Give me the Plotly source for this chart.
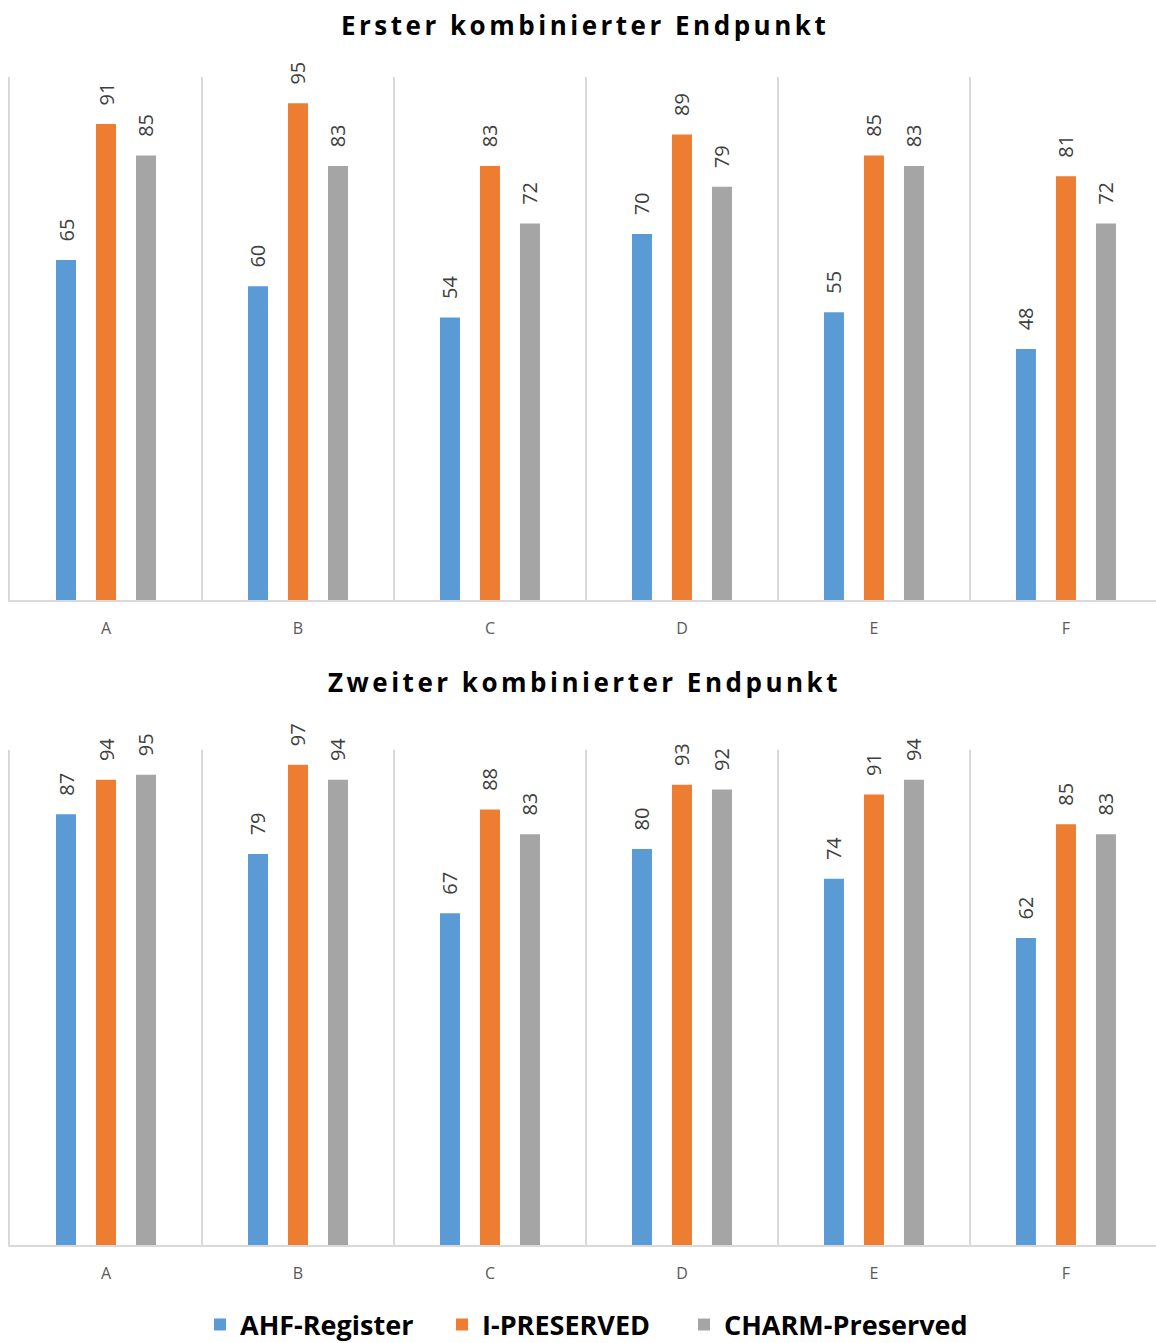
import plotly.graph_objects as go

categories = ["A", "B", "C", "D", "E", "F"]
series_names = ["AHF-Register", "I-PRESERVED", "CHARM-Preserved"]
colors = ["#5B9BD5", "#ED7D31", "#A5A5A5"]

# Erster kombinierter Endpunkt
first_ahf = [65, 60, 54, 70, 55, 48]
first_ipreserved = [91, 95, 83, 89, 85, 81]
first_charm = [85, 83, 72, 79, 83, 72]

# Zweiter kombinierter Endpunkt
second_ahf = [87, 79, 67, 80, 74, 62]
second_ipreserved = [94, 97, 88, 93, 91, 85]
second_charm = [95, 94, 83, 92, 94, 83]

titles = ["Erster kombinierter Endpunkt", "Zweiter kombinierter Endpunkt"]

W, H = 1156, 1343

# one legend box per series so the entries can be spaced evenly
legend_ids = ["legend", "legend2", "legend3"]
legend_left_px = [200, 442, 684]

fig = go.Figure()

panels = [
    ("x", "y", [first_ahf, first_ipreserved, first_charm], True),
    ("x2", "y2", [second_ahf, second_ipreserved, second_charm], False),
]
for xa, ya, values, show in panels:
    for name, color, vals, lg in zip(series_names, colors, values, legend_ids):
        fig.add_trace(go.Bar(
            x=categories, y=vals, name=name, xaxis=xa, yaxis=ya,
            marker=dict(color=color, line=dict(width=0)),
            text=vals, texttemplate="\u00a0\u00a0\u00a0%{text}",
            textposition="outside", textangle=-90, constraintext="none",
            textfont=dict(family="Open Sans", size=20, color="#404040"),
            cliponaxis=False, legendgroup=name, showlegend=show, legend=lg,
        ))

def py(px):
    return 1 - px / H

axis_x = dict(
    type="category", range=[-0.5, 5.469], tickson="boundaries",
    showgrid=True, gridcolor="#d9d9d9", gridwidth=1.5,
    showline=True, linecolor="#d9d9d9", linewidth=2,
    ticks="", ticklen=0, ticklabelstandoff=13,
    tickfont=dict(family="Open Sans", size=16, color="#595959"),
    zeroline=False, fixedrange=True,
)
axis_y = dict(
    range=[0, 100], showgrid=False, showticklabels=False, ticks="",
    showline=True, linecolor="#d9d9d9", linewidth=1.5,
    zeroline=False, fixedrange=True,
)

legend_style = dict(
    orientation="h", xanchor="left", y=py(1325), yanchor="middle",
    font=dict(family="Open Sans", size=27, color="#000000", weight="bold"),
    bgcolor="rgba(0,0,0,0)",
)

fig.update_layout(
    width=W, height=H,
    margin=dict(l=0, r=0, t=0, b=0, autoexpand=False),
    paper_bgcolor="white", plot_bgcolor="white",
    barmode="group", bargap=0.375, bargroupgap=0.5,
    xaxis=dict(axis_x, domain=[10 / W, 1], anchor="y"),
    yaxis=dict(axis_y, domain=[py(600), py(77)], anchor="x"),
    xaxis2=dict(axis_x, domain=[10 / W, 1], anchor="y2"),
    yaxis2=dict(axis_y, domain=[py(1245), py(750)], anchor="x2"),
    showlegend=True,
)
for lg, lx in zip(legend_ids, legend_left_px):
    fig.update_layout({lg: dict(legend_style, x=lx / W)})

for t, ypx in zip(titles, [25, 682]):
    fig.add_annotation(
        text=f'<span style="letter-spacing:3.5px">{t}</span>',
        x=0.506, y=py(ypx), xref="paper", yref="paper",
        xanchor="center", yanchor="middle", showarrow=False,
        font=dict(family="Open Sans", size=26, color="#000000", weight="bold"),
    )

fig.write_html("out.html")
